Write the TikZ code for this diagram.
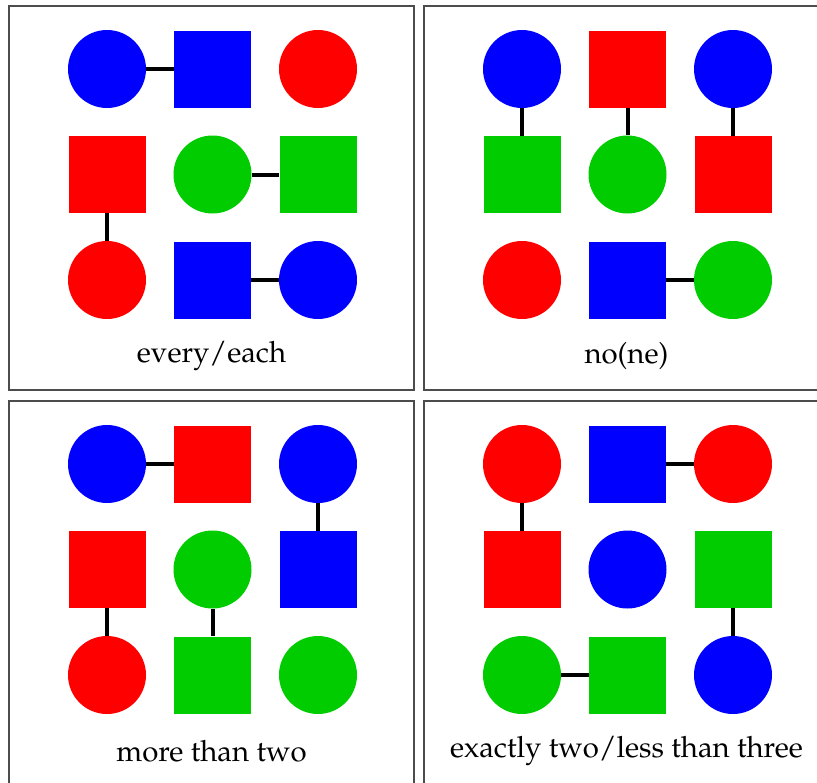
\documentclass[tikz,border=0pt]{standalone}
\usepackage[T1]{fontenc}
\usepackage{mathpazo}
\definecolor{myblue}{RGB}{0,0,255}
\definecolor{myred}{RGB}{255,0,0}
\definecolor{mygreen}{RGB}{0,204,0}
\tikzset{
  cir/.style={circle,minimum size=58.5pt,inner sep=0pt,fill=#1},
  sq/.style={rectangle,minimum size=57.75pt,inner sep=0pt,fill=#1},
  link/.style={line width=3pt,black},
  frame/.style={draw=black!70,line width=0.9pt},
  lab/.style={font=\fontsize{22}{27}\selectfont,inner sep=0pt}
}
\begin{document}
\begin{tikzpicture}[x=0.75pt,y=-0.75pt]
\useasboundingbox (0,0) rectangle (817,782);
% frames
\draw[frame] (9,6) rectangle (414,390);
\draw[frame] (424,6) rectangle (829,390);
\draw[frame] (9,401) rectangle (414,785);
\draw[frame] (424,401) rectangle (829,785);

% panel 1: every/each
\begin{scope}[shift={(9,6)}]
\node[cir=myblue] (a00) at (98,63) {};
\node[sq=myblue]  (a01) at (203.5,63) {};
\node[cir=myred]  (a02) at (309,63) {};
\node[sq=myred]   (a10) at (98,168.5) {};
\node[cir=mygreen](a11) at (203.5,168.5) {};
\node[sq=mygreen] (a12) at (309,168.5) {};
\node[cir=myred]  (a20) at (98,274) {};
\node[sq=myblue]  (a21) at (203.5,274) {};
\node[cir=myblue] (a22) at (309,274) {};
\node[lab] (la) at (202.5,350) {every/each};
\end{scope}
\draw[link] (a00.east) -- (a01.west);
\draw[link] (a10.south) -- (a20.north);
\draw[link] (a11.east) -- (a12.west);
\draw[link] (a21.east) -- (a22.west);

% panel 2: no(ne)
\begin{scope}[shift={(424,6)}]
\node[cir=myblue] (b00) at (98,63) {};
\node[sq=myred]   (b01) at (203.5,63) {};
\node[cir=myblue] (b02) at (309,63) {};
\node[sq=mygreen] (b10) at (98,168.5) {};
\node[cir=mygreen](b11) at (203.5,168.5) {};
\node[sq=myred]   (b12) at (309,168.5) {};
\node[cir=myred]  (b20) at (98,274) {};
\node[sq=myblue]  (b21) at (203.5,274) {};
\node[cir=mygreen](b22) at (309,274) {};
\node[lab] (lb) at (202.5,350) {no(ne)};
\end{scope}
\draw[link] (b00.south) -- (b10.north);
\draw[link] (b01.south) -- (b11.north);
\draw[link] (b02.south) -- (b12.north);
\draw[link] (b21.east) -- (b22.west);

% panel 3: more than two
\begin{scope}[shift={(9,401)}]
\node[cir=myblue] (c00) at (98,63) {};
\node[sq=myred]   (c01) at (203.5,63) {};
\node[cir=myblue] (c02) at (309,63) {};
\node[sq=myred]   (c10) at (98,168.5) {};
\node[cir=mygreen](c11) at (203.5,168.5) {};
\node[sq=myblue]  (c12) at (309,168.5) {};
\node[cir=myred]  (c20) at (98,274) {};
\node[sq=mygreen] (c21) at (203.5,274) {};
\node[cir=mygreen](c22) at (309,274) {};
\node[lab] (lc) at (202.5,350) {more than two};
\end{scope}
\draw[link] (c00.east) -- (c01.west);
\draw[link] (c02.south) -- (c12.north);
\draw[link] (c10.south) -- (c20.north);
\draw[link] (c11.south) -- (c21.north);

% panel 4: exactly two/less than three
\begin{scope}[shift={(424,401)}]
\node[cir=myred]  (d00) at (98,63) {};
\node[sq=myblue]  (d01) at (203.5,63) {};
\node[cir=myred]  (d02) at (309,63) {};
\node[sq=myred]   (d10) at (98,168.5) {};
\node[cir=myblue] (d11) at (203.5,168.5) {};
\node[sq=mygreen] (d12) at (309,168.5) {};
\node[cir=mygreen](d20) at (98,274) {};
\node[sq=mygreen] (d21) at (203.5,274) {};
\node[cir=myblue] (d22) at (309,274) {};
\node[lab] (ld) at (202.5,350) {exactly two/less than three};
\end{scope}
\draw[link] (d00.south) -- (d10.north);
\draw[link] (d01.east) -- (d02.west);
\draw[link] (d12.south) -- (d22.north);
\draw[link] (d20.east) -- (d21.west);
\end{tikzpicture}
\end{document}
